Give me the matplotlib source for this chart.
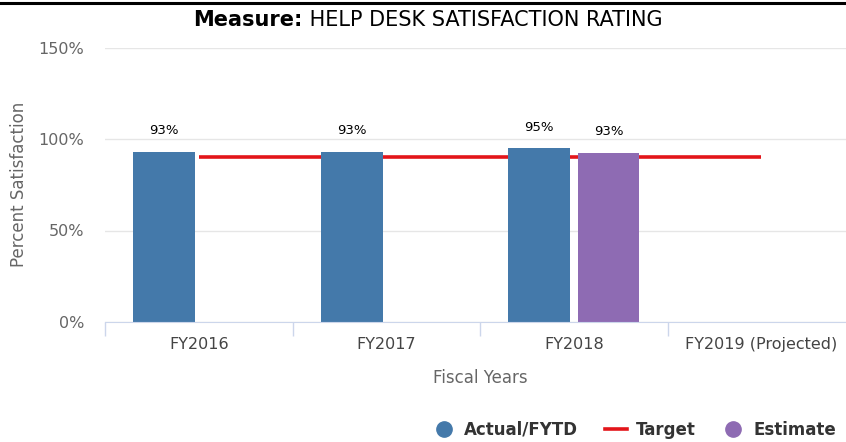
"""Help desk satisfaction rating: actual, target and estimate by fiscal year."""

import matplotlib
matplotlib.use("Agg")
import matplotlib.pyplot as plt
from matplotlib.lines import Line2D
import numpy as np

# Data
categories = ["FY2016", "FY2017", "FY2018", "FY2019 (Projected)"]
actual = [93, 93, 95, None]
estimate = [None, None, 92.6, None]
target = [90, 90, 90, 90]
y_ticks = [0, 50, 100, 150]

BLUE = "#4479aa"
PURPLE = "#8e6bb3"
RED = "#e3151a"
GRAY = "#666666"

W, H = 846, 442
fig = plt.figure(figsize=(W / 100, H / 100), dpi=100)

# Plot area runs past the right edge of the image, as in the original
ax = fig.add_axes([105 / W, 1 - 322 / H, 750 / W, 274.5 / H])

x = np.arange(len(categories))
bar_w = 0.33
offset = 0.185

# Target line behind the bars
ax.plot(x, target, color=RED, linewidth=2.6, zorder=1, solid_capstyle="butt")

for i, v in enumerate(actual):
    if v is None:
        continue
    ax.bar(x[i] - offset, v, width=bar_w, color=BLUE, zorder=2)
    ax.text(x[i] - offset, v + 8, f"{v:.0f}%", ha="center", va="bottom",
            fontsize=9.5, color="black")

for i, v in enumerate(estimate):
    if v is None:
        continue
    ax.bar(x[i] + offset, v, width=bar_w, color=PURPLE, zorder=2)
    ax.text(x[i] + offset, v + 8, f"{v:.0f}%", ha="center", va="bottom",
            fontsize=9.5, color="black")

ax.set_xlim(-0.5, len(categories) - 0.5)
ax.set_ylim(0, 150)
ax.set_yticks(y_ticks)
ax.set_yticklabels([f"{t}%" for t in y_ticks], color=GRAY, fontsize=11.5)
ax.tick_params(axis="y", length=0, pad=15)
ax.grid(axis="y", color="#e6e6e6", linewidth=1)
ax.set_axisbelow(True)

ax.set_xticks(x)
ax.set_xticklabels(categories, color="#444444", fontsize=11.5)
ax.tick_params(axis="x", length=0, pad=11)
# category boundary ticks
ax.set_xticks(np.arange(len(categories) + 1) - 0.5, minor=True)
ax.tick_params(axis="x", which="minor", length=10, color="#ccd6eb", width=1)

for s in ["top", "right", "left"]:
    ax.spines[s].set_visible(False)
ax.spines["bottom"].set_color("#ccd6eb")

ax.set_ylabel("Percent Satisfaction", color=GRAY, fontsize=12, va="center")
ax.yaxis.set_label_coords((19 - 105) / 750, 0.5)
ax.set_xlabel("Fiscal Years", color=GRAY, fontsize=12, va="center")
ax.xaxis.set_label_coords(0.5, -(378 - 322) / 274.5)

# Title: bold "Measure:" followed by regular text, centred together
t1 = fig.text(0, 1 - 20 / H, "Measure:", fontsize=15, fontweight="bold",
              ha="left", va="center")
t2 = fig.text(0, 1 - 20 / H, " HELP DESK SATISFACTION RATING", fontsize=15,
              ha="left", va="center")
fig.canvas.draw()
r = fig.canvas.get_renderer()
w1 = t1.get_window_extent(r).width
w2 = t2.get_window_extent(r).width
x0 = (428 - (w1 + w2) / 2) / W
t1.set_x(x0)
t2.set_x(x0 + w1 / W)

# Top border line
fig.add_artist(Line2D([0, 1], [1 - 2.5 / H, 1 - 2.5 / H], color="black",
                      linewidth=2.2, transform=fig.transFigure))

# Legend
handles = [
    Line2D([], [], marker="o", linestyle="none", markersize=11,
           markerfacecolor=BLUE, markeredgecolor=BLUE),
    Line2D([], [], color=RED, linewidth=2.6),
    Line2D([], [], marker="o", linestyle="none", markersize=11,
           markerfacecolor=PURPLE, markeredgecolor=PURPLE),
]
leg = fig.legend(handles, ["Actual/FYTD", "Target", "Estimate"], ncol=3,
                 loc="center right", bbox_to_anchor=(851 / W, 1 - 430 / H),
                 frameon=False, handlelength=1.3, handletextpad=0.55,
                 columnspacing=1.6, prop={"weight": "bold", "size": 12})
for txt in leg.get_texts():
    txt.set_color("#333333")

fig.savefig("out.png", dpi=100)
